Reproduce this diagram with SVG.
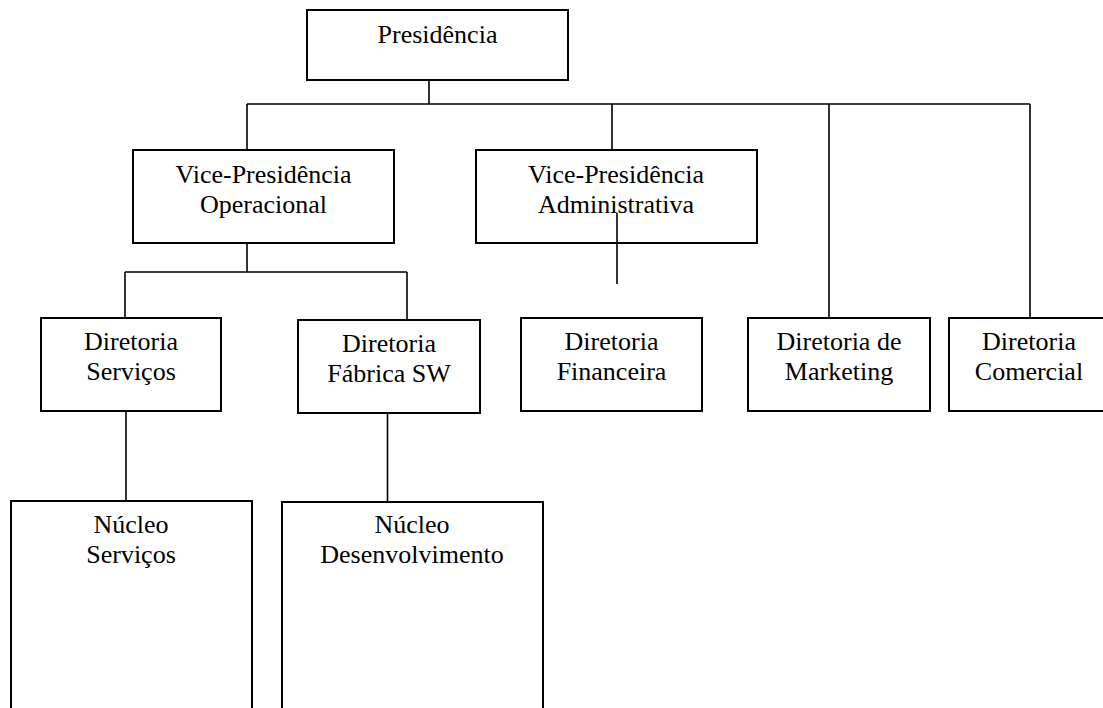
<svg xmlns="http://www.w3.org/2000/svg" width="1103" height="708" viewBox="0 0 1103 708">
<style>
.box{fill:#fff;stroke:#000;stroke-width:2}
.c{fill:none;stroke:#000;stroke-width:1.6}
text{font-family:"Liberation Serif","Times New Roman",serif;font-size:26px;fill:#000;text-anchor:middle}
</style>
<rect width="1103" height="708" fill="#fff"/>
<g id="n-presidencia"><rect class="box" x="307" y="10" width="261" height="70"/><text x="437.5" y="43">Presidência</text></g>
<g id="n-vp-op"><rect class="box" x="133" y="150" width="261" height="93"/><text x="263.5" y="183">Vice-Presidência</text><text x="263.5" y="213">Operacional</text></g>
<g id="n-vp-adm"><rect class="box" x="476" y="150" width="281" height="93"/><text x="616" y="183">Vice-Presidência</text><text x="616" y="213">Administrativa</text></g>
<g id="n-dir-serv"><rect class="box" x="41" y="318" width="180" height="93"/><text x="131" y="350">Diretoria</text><text x="131" y="380">Serviços</text></g>
<g id="n-dir-fab"><rect class="box" x="298" y="320" width="182" height="93"/><text x="389" y="352">Diretoria</text><text x="389" y="382">Fábrica SW</text></g>
<g id="n-dir-fin"><rect class="box" x="521" y="318" width="181" height="93"/><text x="611.5" y="350">Diretoria</text><text x="611.5" y="380">Financeira</text></g>
<g id="n-dir-mkt"><rect class="box" x="748" y="318" width="182" height="93"/><text x="839" y="350">Diretoria de</text><text x="839" y="380">Marketing</text></g>
<g id="n-dir-com"><rect class="box" x="949" y="318" width="170" height="93"/><text x="1029" y="350">Diretoria</text><text x="1029" y="380">Comercial</text></g>
<g id="n-nuc-serv"><rect class="box" x="11" y="501" width="241" height="230"/><text x="131" y="533">Núcleo</text><text x="131" y="563">Serviços</text></g>
<g id="n-nuc-dev"><rect class="box" x="282" y="502" width="261" height="230"/><text x="412" y="533">Núcleo</text><text x="412" y="563">Desenvolvimento</text></g>
<g id="connectors">
<path class="c" d="M429 80V104M247 104H1030M247 104V150M612 104V150M829 104V318M1030 104V318"/>
<path class="c" d="M247 243V272M125 272H407M125 272V318M407 272V320"/>
<path class="c" d="M617 213V284"/>
<path class="c" d="M126 411V501M387.5 413V502"/>
</g>
</svg>
